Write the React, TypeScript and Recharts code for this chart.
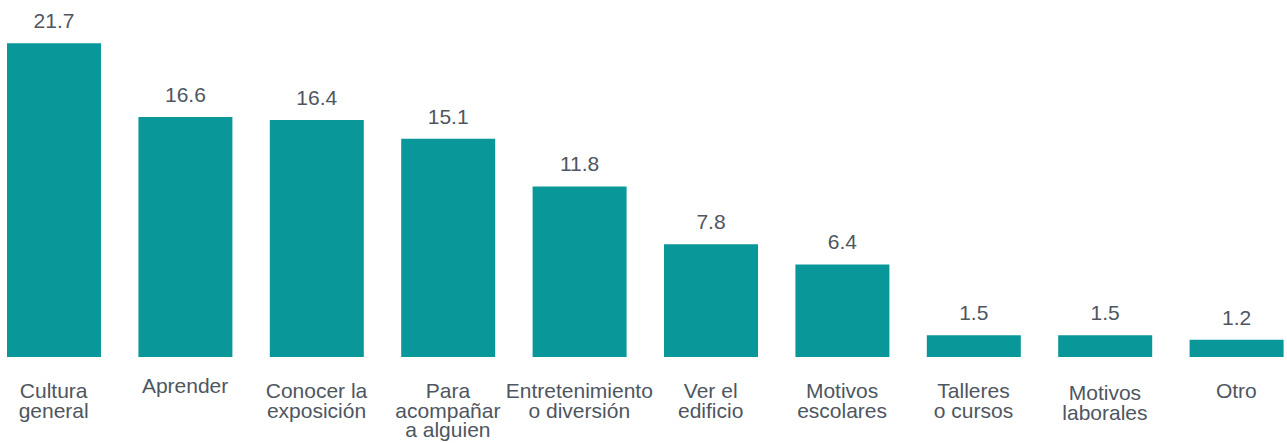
import { BarChart, Bar, XAxis, YAxis, LabelList } from "recharts";

const categories = [
  "Cultura general",
  "Aprender",
  "Conocer la exposición",
  "Para acompañar a alguien",
  "Entretenimiento o diversión",
  "Ver el edificio",
  "Motivos escolares",
  "Talleres o cursos",
  "Motivos laborales",
  "Otro",
];

// category label split into lines as in the picture
const tickLines = [
  ["Cultura", "general"],
  ["Aprender"],
  ["Conocer la", "exposición"],
  ["Para", "acompañar", "a alguien"],
  ["Entretenimiento", "o diversión"],
  ["Ver el", "edificio"],
  ["Motivos", "escolares"],
  ["Talleres", "o cursos"],
  ["Motivos", "laborales"],
  ["Otro"],
];

const values = [21.7, 16.6, 16.4, 15.1, 11.8, 7.8, 6.4, 1.5, 1.5, 1.2];

const data = categories.map((name, i) => ({ name, value: values[i] }));

const TEXT = "#4e5660";
const FONT = "'Liberation Sans', Arial, sans-serif";

function CategoryTick(props: any) {
  const { x, y, payload } = props;
  const lines = tickLines[payload.index] || [payload.value];
  // the original labels are not all on the same baseline
  let nudge = 0;
  if (payload.index === 1) nudge = -5;
  if (payload.index === 8) nudge = 2;
  return (
    <text
      x={x}
      y={y + 33 + nudge}
      textAnchor="middle"
      fill={TEXT}
      fontSize={21}
      fontFamily={FONT}
    >
      {lines.map((l: string, i: number) => (
        <tspan key={i} x={x} dy={i === 0 ? 0 : 19.7}>
          {l}
        </tspan>
      ))}
    </text>
  );
}

export default function App() {
  return (
    <div
      style={{
        position: "absolute",
        left: 0,
        top: 0,
        width: 1287,
        height: 443,
        overflow: "hidden",
        background: "#fff",
      }}
    >
      <div style={{ marginLeft: -12 }}>
        <BarChart
          width={1314}
          height={443}
          data={data}
          margin={{ top: 39, right: 0, bottom: 0, left: 0 }}
          barSize={94}
        >
          <XAxis
            dataKey="name"
            axisLine={false}
            tickLine={false}
            height={86}
            interval={0}
            tick={<CategoryTick />}
          />
          <YAxis hide domain={[0, 22]} />
          <Bar dataKey="value" fill="#0a9799" isAnimationActive={false}>
            <LabelList
              dataKey="value"
              position="top"
              offset={15}
              fill={TEXT}
              fontSize={21}
              fontFamily={FONT}
              formatter={(v: any) => Number(v).toFixed(1)}
            />
          </Bar>
        </BarChart>
      </div>
    </div>
  );
}
